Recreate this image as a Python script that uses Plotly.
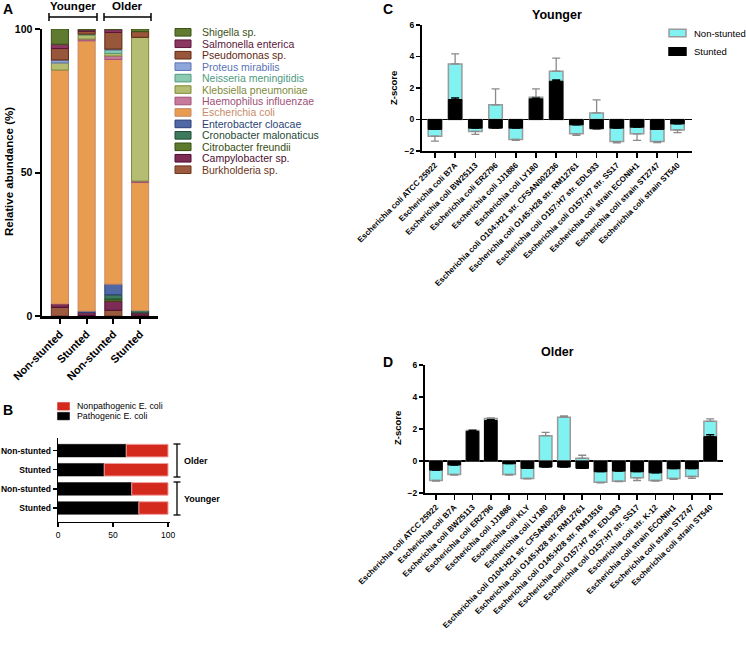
import plotly.graph_objects as go
import numpy as np

W, H = 746, 653
FONT = "Liberation Sans, Arial, Helvetica, sans-serif"


def xp(p):
    return p / W


def yp(p):
    return 1 - p / H


# ---------------- Panel A data ----------------
a_groups = ["Younger", "Younger", "Older", "Older"]
a_conditions = ["Non-stunted", "Stunted", "Non-stunted", "Stunted"]
a_species = ["Burkholderia sp.", "Campylobacter sp.", "Citrobacter freundii",
             "Cronobacter malonaticus", "Enterobacter cloacae", "Escherichia coli",
             "Haemophilus influenzae", "Klebsiella pneumoniae", "Neisseria meningitidis",
             "Proteus mirabilis", "Pseudomonas sp.", "Salmonella enterica", "Shigella sp."]
burkholderia = [3.0, 0.2, 2.0, 0.3]
campylobacter = [1.2, 1.0, 3.2, 0.8]
citrobacter = [0.0, 0.0, 0.7, 0.0]
cronobacter = [0.0, 0.0, 1.5, 0.8]
enterobacter = [0.0, 0.5, 3.7, 0.0]
escherichia = [81.5, 94.2, 78.3, 44.6]
haemophilus = [0.0, 0.6, 1.2, 0.5]
klebsiella = [2.5, 1.4, 0.9, 50.1]
neisseria = [0.0, 0.3, 1.2, 0.0]
proteus = [1.0, 0.0, 0.3, 0.0]
pseudomonas = [4.0, 1.0, 5.8, 2.0]
salmonella = [1.5, 0.5, 1.0, 0.0]
shigella = [5.3, 0.3, 0.2, 0.9]
a_values = [burkholderia, campylobacter, citrobacter, cronobacter, enterobacter,
            escherichia, haemophilus, klebsiella, neisseria, proteus, pseudomonas,
            salmonella, shigella]
a_fill = ["#9c5b3f", "#7d2d55", "#5d7a2a", "#3e7a5c", "#5068a5", "#e89c50",
          "#c87a9c", "#b5bd72", "#8ccab2", "#8fa6da", "#98563a", "#8c3762", "#5f7b2f"]
a_edge = ["#6b3520", "#4d0d30", "#354d10", "#1f4a35", "#2b3f75", "#c98a6a",
          "#a05078", "#7e8a3a", "#4e9a80", "#5a73b5", "#5e2810", "#5a1538", "#3b521a"]

# ---------------- Panel B data ----------------
b_groups = ["Older", "Older", "Younger", "Younger"]
b_conditions = ["Non-stunted", "Stunted", "Non-stunted", "Stunted"]
pathogenic = [62, 42, 67, 73.5]
nonpathogenic = [38, 58, 33, 26.5]

# ---------------- Panel C data (Younger) ----------------
c_strains = ["ATCC 25922", "B7A", "BW25113", "ER2796", "JJ1886", "LY180",
             "O104:H21 str. CFSAN002236", "O145:H28 str. RM12761",
             "O157:H7 str. EDL933", "O157:H7 str. SS17", "strain ECONIH1",
             "strain ST2747", "strain ST540"]
c_nonstunted = [-1.06, 3.53, -0.76, 0.93, -1.27, 1.42, 3.07, -0.91, 0.42, -1.40, -0.91, -1.40, -0.66]
c_nonstunted_err = [0.31, 0.64, 0.19, 1.02, 0.06, 0.53, 0.83, 0.10, 0.83, 0.08, 0.42, 0.06, 0.17]
c_stunted = [-0.63, 1.27, -0.55, -0.55, -0.55, 1.31, 2.43, -0.34, -0.59, -0.55, -0.49, -0.63, -0.28]
c_stunted_err = [0.0, 0.10, 0.0, 0.0, 0.0, 0.05, 0.08, 0.0, 0.0, 0.0, 0.0, 0.0, 0.0]

# ---------------- Panel D data (Older) ----------------
d_strains = ["ATCC 25922", "B7A", "BW25113", "ER2796", "JJ1886", "KLY", "LY180",
             "O104:H21 str. CFSAN002236", "O145:H28 str. RM12761",
             "O145:H28 str. RM13516", "O157:H7 str. EDL933", "O157:H7 str. SS17",
             "str. K-12", "strain ECONIH1", "strain ST2747", "strain ST540"]
d_nonstunted = [-1.22, -0.84, 1.90, 2.65, -0.84, -1.09, 1.58, 2.74, 0.17, -1.33,
                -1.26, -1.05, -1.22, -1.09, -0.97, 2.48]
d_nonstunted_err = [0.04, 0.04, 0.04, 0.05, 0.04, 0.03, 0.21, 0.08, 0.19, 0.03,
                    0.03, 0.17, 0.03, 0.06, 0.12, 0.15]
d_stunted = [-0.57, -0.25, 1.85, 2.53, -0.17, -0.46, -0.38, -0.38, -0.46, -0.67,
             -0.63, -0.67, -0.74, -0.48, -0.48, 1.52]
d_stunted_err = [0, 0, 0.06, 0.05, 0, 0, 0, 0, 0, 0, 0, 0, 0, 0, 0, 0.12]

NS_FILL, NS_EDGE, NS_ERR = "#80f2f2", "#9a9a9a", "#8a8a8a"
ST_FILL = "#000000"
RED = "#d42a1e"

fig = go.Figure()

# ---------- Panel A traces (stacked via base) ----------
a_x = [g + " " + c for g, c in zip(a_groups, a_conditions)]
cum = np.zeros(len(a_x))
for name, vals, fc, ec in zip(a_species, a_values, a_fill, a_edge):
    v = np.array(vals, dtype=float)
    fig.add_trace(go.Bar(
        x=a_x, y=[val if val > 0 else None for val in v], base=cum.copy(),
        width=0.64, name=name, showlegend=False,
        marker=dict(color=fc, line=dict(color=ec, width=1)),
        xaxis="x", yaxis="y"))
    cum = cum + v

# ---------- Panel B traces ----------
b_ids = [g + " " + c for g, c in zip(b_groups, b_conditions)]
fig.add_trace(go.Bar(
    y=b_ids, x=pathogenic, orientation="h", width=0.66, name="Pathogenic E. coli",
    showlegend=False, marker=dict(color="#000000", line=dict(color="#000000", width=0.5)),
    xaxis="x2", yaxis="y2"))
fig.add_trace(go.Bar(
    y=b_ids, x=nonpathogenic, base=pathogenic, orientation="h", width=0.66,
    name="Nonpathogenic E. coli", showlegend=False,
    marker=dict(color=RED, line=dict(color="#f0a0a0", width=1)),
    xaxis="x2", yaxis="y2"))


def err_dict(vals, errs, color):
    return dict(type="data", symmetric=False,
                array=[e if v >= 0 else 0 for v, e in zip(vals, errs)],
                arrayminus=[e if v < 0 else 0 for v, e in zip(vals, errs)],
                color=color, thickness=1.3, width=4)


# ---------- Panel C traces ----------
c_labels = ["Escherichia coli " + s for s in c_strains]
fig.add_trace(go.Bar(
    x=c_labels, y=c_nonstunted, width=0.67, name="Non-stunted", showlegend=False,
    marker=dict(color=NS_FILL, line=dict(color=NS_EDGE, width=1.5)),
    error_y=err_dict(c_nonstunted, c_nonstunted_err, NS_ERR),
    xaxis="x3", yaxis="y3"))
fig.add_trace(go.Bar(
    x=c_labels, y=c_stunted, width=0.67, name="Stunted", showlegend=False,
    marker=dict(color=ST_FILL, line=dict(color=ST_FILL, width=1)),
    error_y=err_dict(c_stunted, c_stunted_err, "#000000"),
    xaxis="x3", yaxis="y3"))

# ---------- Panel D traces ----------
d_labels = ["Escherichia coli " + s for s in d_strains]
fig.add_trace(go.Bar(
    x=d_labels, y=d_nonstunted, width=0.69, name="Non-stunted", showlegend=False,
    marker=dict(color=NS_FILL, line=dict(color=NS_EDGE, width=1.5)),
    error_y=err_dict(d_nonstunted, d_nonstunted_err, NS_ERR),
    xaxis="x4", yaxis="y4"))
fig.add_trace(go.Bar(
    x=d_labels, y=d_stunted, width=0.69, name="Stunted", showlegend=False,
    marker=dict(color=ST_FILL, line=dict(color=ST_FILL, width=1)),
    error_y=err_dict(d_stunted, d_stunted_err, "#000000"),
    xaxis="x4", yaxis="y4"))

bold = dict(family=FONT, color="#000000", weight="bold")

shapes = []
annotations = []


def ann(text, x, y, size, xanchor="center", yanchor="middle", color="#000", weight="bold", angle=0):
    annotations.append(dict(
        text=text, x=xp(x), y=yp(y), xref="paper", yref="paper", showarrow=False,
        xanchor=xanchor, yanchor=yanchor, textangle=angle,
        font=dict(family=FONT, size=size, color=color, weight=weight)))


def line(x0, y0, x1, y1, w=1.5, color="#000"):
    shapes.append(dict(type="line", xref="paper", yref="paper",
                       x0=xp(x0), y0=yp(y0), x1=xp(x1), y1=yp(y1),
                       line=dict(color=color, width=w)))


def rect(x0, y0, x1, y1, fill, edge, w=1):
    shapes.append(dict(type="rect", xref="paper", yref="paper",
                       x0=xp(x0), y0=yp(y0), x1=xp(x1), y1=yp(y1),
                       fillcolor=fill, line=dict(color=edge, width=w)))


# Panel letters
ann("A", 1, 9, 14, xanchor="left")
ann("B", 1, 410, 14, xanchor="left")
ann("C", 381, 9, 14, xanchor="left")
ann("D", 381, 362, 14, xanchor="left")

# Panel A brackets and titles
for label, x0, x1 in [("Younger", 49, 97), ("Older", 104, 151)]:
    line(x0, 17, x1, 17, 1.5)
    line(x0, 13, x0, 21, 1.5)
    line(x1, 13, x1, 21, 1.5)
    ann(label, (x0 + x1) / 2, 6, 11.5)
ann("Relative abundance (%)", 9, 172, 11.5, angle=-90)

# Panel A legend (top = last stacked)
for i, (name, fc, ec) in enumerate(zip(a_species[::-1], a_fill[::-1], a_edge[::-1])):
    yc = 32.3 + i * 11.45
    rect(175, yc - 3.8, 191, yc + 3.8, fc, ec, 1)
    ann(name, 200, yc, 10.5, xanchor="left", color=ec, weight="normal")

# Panel B legend
for i, (name, fc) in enumerate([("Nonpathogenic E. coli", RED), ("Pathogenic E. coli", "#000000")]):
    yc = 406.3 + i * 9.8
    rect(57.5, yc - 3.8, 69.5, yc + 3.8, fc, fc, 0.5)
    ann(name, 75, yc, 8.8, xanchor="left", weight="normal")

# Panel B brackets
for label, y0, y1 in [("Older", 444, 477), ("Younger", 482, 515)]:
    line(177, y0, 177, y1, 1.3)
    line(173.5, y0, 180.5, y0, 1.3)
    line(173.5, y1, 180.5, y1, 1.3)
    ann(label, 182, (y0 + y1) / 2, 9, xanchor="left")

# Panel C / D titles
ann("Younger", 557, 15, 12.5)
ann("Older", 557, 352, 12.5)
ann("Z-score", 393, 88, 9.5, angle=-90)
ann("Z-score", 397, 428, 9.5, angle=-90)

# Panel C legend
for i, (name, fc, ec) in enumerate([("Non-stunted", NS_FILL, NS_EDGE), ("Stunted", ST_FILL, ST_FILL)]):
    yc = 33 + i * 18.5
    rect(669, yc - 3.8, 686, yc + 3.8, fc, ec, 1.5)
    ann(name, 692, yc, 9.5, xanchor="left", weight="normal")

common_y = dict(showgrid=False, showline=True, linecolor="#000", linewidth=2,
                ticks="outside", ticklen=4, tickwidth=1.5, tickcolor="#000",
                tickfont=dict(size=8.5, **bold), zeroline=False, automargin=False)
common_x = dict(showgrid=False, showline=True, linecolor="#000", linewidth=1.5,
                ticks="outside", ticklen=5, tickwidth=1.5, tickcolor="#000",
                zeroline=False, automargin=False)

fig.update_layout(
    width=W, height=H, autosize=False,
    margin=dict(l=0, r=0, t=0, b=0, pad=0, autoexpand=False),
    paper_bgcolor="white", plot_bgcolor="white",
    barmode="overlay", showlegend=False, hovermode=False,
    font=dict(family=FONT, color="#000"),
    shapes=shapes, annotations=annotations,
    xaxis=dict(domain=[xp(42), xp(158)], anchor="y", type="category",
               categoryorder="array", categoryarray=a_x,
               tickvals=a_x, ticktext=a_conditions, range=[-0.67, 3.67],
               tickangle=-45, tickfont=dict(size=11, **bold),
               **{**common_x, "linewidth": 2.5, "tickwidth": 2}),
    yaxis=dict(domain=[yp(316), yp(29)], anchor="x", range=[0, 100],
               tickvals=[0, 50, 100],
               **{**common_y, "linewidth": 2.5, "tickwidth": 2, "ticklen": 5,
                  "tickfont": dict(size=10.5, **bold)}),
    xaxis2=dict(domain=[xp(58), xp(170)], anchor="y2", range=[0, 101.8],
                tickvals=[0, 50, 100],
                tickfont=dict(size=8.5, family=FONT, color="#000"),
                **{**common_x, "linewidth": 1.3, "tickwidth": 1.3, "ticklen": 4}),
    yaxis2=dict(domain=[yp(522), yp(438)], anchor="x2", type="category",
                categoryorder="array", categoryarray=b_ids,
                tickvals=b_ids, ticktext=b_conditions, range=[3.73, -0.66],
                **{**common_y, "linewidth": 1.3, "tickwidth": 1.3,
                   "tickfont": dict(size=8.5, **bold)}),
    xaxis3=dict(domain=[xp(422), xp(692)], anchor="y3", type="category",
                categoryorder="array", categoryarray=c_labels,
                range=[-0.64, 12.72], tickangle=-45,
                tickfont=dict(size=8, **bold), **common_x),
    yaxis3=dict(domain=[yp(151), yp(25)], anchor="x3", range=[-2, 6],
                tickvals=[-2, 0, 2, 4, 6],
                **{**common_y, "zeroline": True, "zerolinecolor": "#000",
                   "zerolinewidth": 1.5}),
    xaxis4=dict(domain=[xp(425), xp(723)], anchor="y4", type="category",
                categoryorder="array", categoryarray=d_labels,
                range=[-0.6, 15.7], tickangle=-45,
                tickfont=dict(size=8, **bold), **common_x),
    yaxis4=dict(domain=[yp(493), yp(365)], anchor="x4", range=[-2, 6],
                tickvals=[-2, 0, 2, 4, 6],
                **{**common_y, "zeroline": True, "zerolinecolor": "#000",
                   "zerolinewidth": 1.5}),
)

fig.write_html(
    "out.html",
    config={"displayModeBar": False, "staticPlot": True},
    post_script="document.body.style.margin='0';"
                "document.documentElement.style.overflow='hidden';"
                "document.body.style.overflow='hidden';",
)
